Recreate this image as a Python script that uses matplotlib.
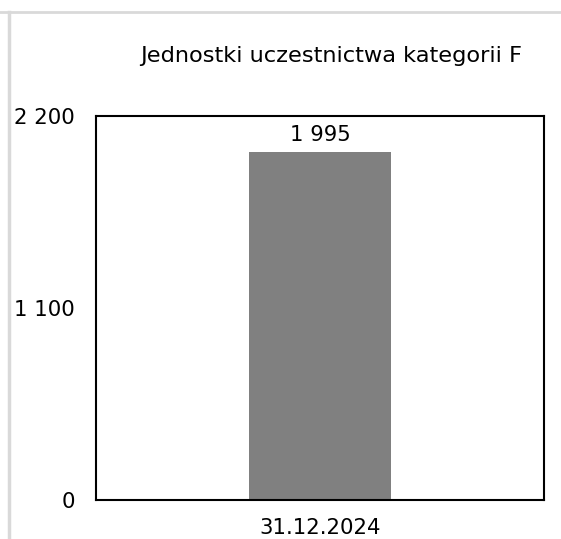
import matplotlib.pyplot as plt
from matplotlib.lines import Line2D

# data
categories = ["31.12.2024"]
values = [1995]
y_ticks = [0, 1100, 2200]
y_tick_labels = ["0", "1 100", "2 200"]
title = "Jednostki uczestnictwa kategorii F"

plt.rcParams["font.family"] = ["DejaVu Sans"]

W, H = 561, 539
fig = plt.figure(figsize=(W / 100, H / 100), dpi=100)

# axes box in pixel coords
left, right, top, bottom = 96, 544, 116, 500
ax = fig.add_axes([left / W, 1 - bottom / H, (right - left) / W, (bottom - top) / H])

fs = 15.3
ax.bar(categories, values, width=0.315, color="#808080")
ax.set_xlim(-0.5, 0.5)
ax.set_ylim(0, 2200)
ax.set_yticks(y_ticks)
ax.set_yticklabels(y_tick_labels)
ax.tick_params(axis="both", length=0, labelsize=fs)
ax.tick_params(axis="y", pad=15)
ax.tick_params(axis="x", pad=13)
for s in ax.spines.values():
    s.set_linewidth(1.5)
    s.set_color("black")

for i, v in enumerate(values):
    ax.annotate(f"{v:,}".replace(",", " "), (i, v), xytext=(0, 8), textcoords="offset points",
                ha="center", va="baseline", fontsize=fs)

fig.text(331 / W, 1 - 62 / H, title, ha="center", va="baseline", fontsize=16.2)

# light gray frame lines (top and left)
fig.add_artist(Line2D([0, 1], [1 - 12 / H, 1 - 12 / H], color="#d9d9d9", lw=2, transform=fig.transFigure))
fig.add_artist(Line2D([9 / W, 9 / W], [0, 1 - 12 / H], color="#d9d9d9", lw=2.5, transform=fig.transFigure))

fig.savefig("out.png", dpi=100)
